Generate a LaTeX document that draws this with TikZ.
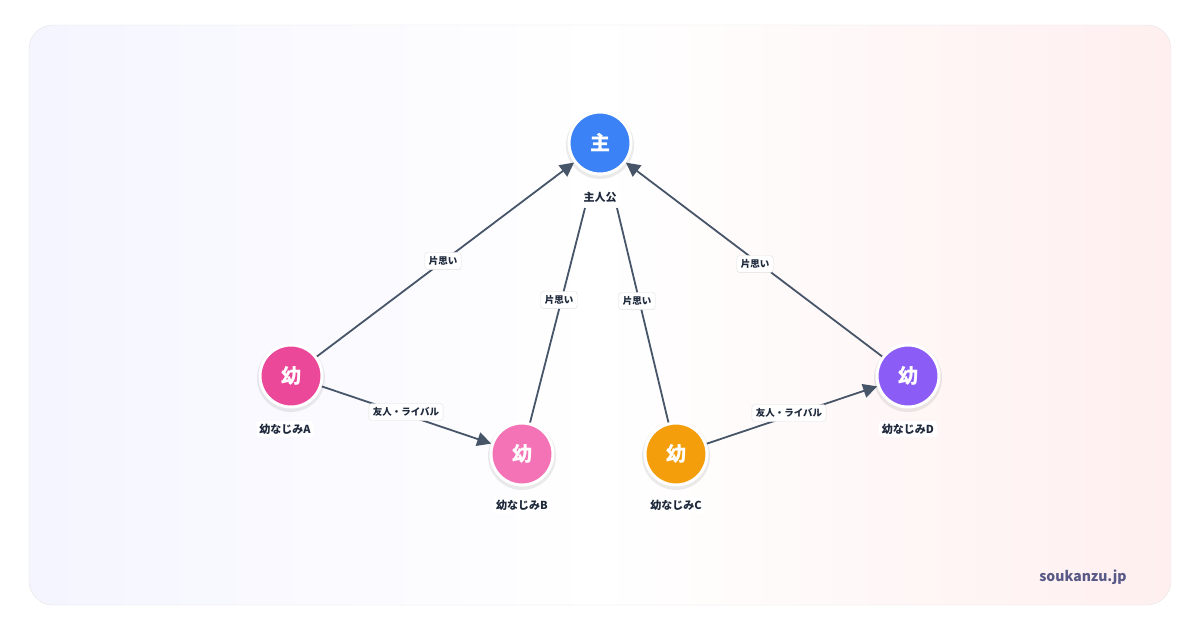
\documentclass[tikz,border=0pt]{standalone}
\usepackage{fontspec}
\setmainfont{Noto Sans CJK JP}
\usetikzlibrary{arrows.meta}
\definecolor{edge}{HTML}{475569}
\definecolor{txt}{HTML}{1E293B}
\definecolor{cmain}{HTML}{3B82F6}
\definecolor{ca}{HTML}{EC4899}
\definecolor{cb}{HTML}{F472B6}
\definecolor{cc}{HTML}{F59E0B}
\definecolor{cd}{HTML}{8B5CF6}
\begin{document}
\begin{tikzpicture}[x=1pt,y=-1pt,
  person/.style={circle,minimum size=62pt,draw=white,line width=3pt,text=white,font=\bfseries\fontsize{20}{20}\selectfont},
  shadowc/.style={circle,minimum size=68pt,fill=black,opacity=0.08},
  plabel/.style={fill=white,rounded corners=3pt,inner sep=3pt,text=txt,font=\bfseries\fontsize{11}{11}\selectfont},
  elab/.style={fill=white,draw=black!12,rounded corners=3pt,inner sep=4pt,text=txt,font=\bfseries\fontsize{9.5}{10}\selectfont},
  rel/.style={draw=edge,line width=1.8pt},
  arr/.style={rel,-{Triangle[length=14pt,width=14pt]}}]
\useasboundingbox (0,0) rectangle (1200,630);
\fill[white] (0,0) rectangle (1200,630);
\shade[left color=blue!4,right color=pink!25!white,middle color=white,rounded corners=24pt] (29,25) rectangle (1171,605);
\draw[black!10,rounded corners=24pt] (29,25) rectangle (1171,605);
\foreach \p in {(600,145),(291,378),(522,456),(676,456),(908,378)} \node[shadowc] at \p {};
\node[person,fill=cmain] (m) at (600,143) {主};
\node[person,fill=ca] (a) at (291,376) {幼};
\node[person,fill=cb] (b) at (522,454) {幼};
\node[person,fill=cc] (c) at (676,454) {幼};
\node[person,fill=cd] (d) at (908,376) {幼};
\node[plabel] (mn) at (600,197) {主人公};
\node[plabel] (an) at (285,429) {幼なじみA};
\node[plabel] (bn) at (522,505) {幼なじみB};
\node[plabel] (cn) at (676,505) {幼なじみC};
\node[plabel] (dn) at (908,429) {幼なじみD};
\coordinate (m1) at (585,208);
\coordinate (m2) at (617,208);
\draw[arr] (a) -- (m);
\draw[arr] (d) -- (m);
\draw[rel] (b) -- (m1);
\draw[rel] (c) -- (m2);
\draw[arr] (a) -- (b);
\draw[arr] (c) -- (d);
\node[elab] at (443,261) {片思い};
\node[elab] at (559,300) {片思い};
\node[elab] at (637,301) {片思い};
\node[elab] at (755,264) {片思い};
\node[elab] at (406,412) {友人・ライバル};
\node[elab] at (789,413) {友人・ライバル};
\node[text=black!40!blue!30!gray,font=\bfseries\fontsize{14}{14}\selectfont] (wm) at (1083,577) {soukanzu.jp};
\end{tikzpicture}
\end{document}
